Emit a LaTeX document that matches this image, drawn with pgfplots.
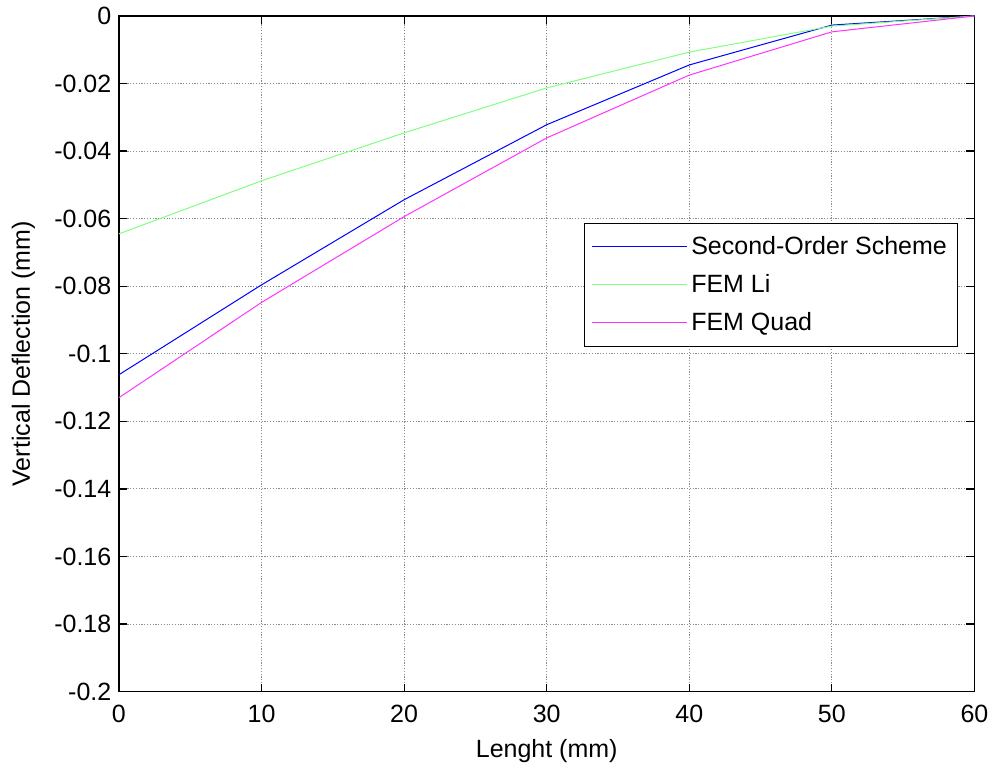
\documentclass[border=0pt]{standalone}
\usepackage{fontspec}
\setmainfont{Liberation Sans}
\usepackage{pgfplots}
\pgfplotsset{compat=1.18}

\definecolor{mblue}{rgb}{0,0,1}
\definecolor{mgreen}{rgb}{0.5,1,0.5}
\definecolor{mmag}{rgb}{1,0.2,1}

\begin{document}
\begin{tikzpicture}
\begin{axis}[
   name=ax,
   scale only axis, width=428pt, height=338pt,
   xmin=0, xmax=60, ymin=-0.2, ymax=0,
   xtick={0,10,20,30,40,50,60},
   ytick={-0.2,-0.18,-0.16,-0.14,-0.12,-0.1,-0.08,-0.06,-0.04,-0.02,0},
   yticklabels={-0.2,-0.18,-0.16,-0.14,-0.12,-0.1,-0.08,-0.06,-0.04,-0.02,0},
   xticklabels={0,10,20,30,40,50,60},
   tick pos=both, tick align=inside, major tick length=4pt,
   tick style={black, line width=0.6pt},
   axis line style={black, line width=0.6pt},
   grid=major, major grid style={dash pattern=on 0.6pt off 0.8pt, gray!90, line width=0.5pt},
   ticklabel style={font=\fontsize{12.5}{15}\selectfont},
   xticklabel style={yshift=-3pt},
   yticklabel style={xshift=-0.3pt},
   xlabel={Lenght (mm)}, ylabel={Vertical Deflection (mm)},
   label style={font=\fontsize{12.5}{15}\selectfont},
   xlabel style={at={(rel axis cs:0.5,-0.0976)}, anchor=base},
   ylabel style={at={(rel axis cs:-0.104,0.5)}, anchor=base, rotate=0},
   legend style={at={(0.9813,0.6938)}, anchor=north east, draw=black,
      line width=0.6pt, font=\fontsize{12.5}{15}\selectfont,
      inner xsep=3.5pt, inner ysep=4.5pt, row sep=4.35pt},
   legend cell align=left,
   legend image code/.code={
      \path (0pt,0pt) -- (47.5pt,0pt);
      \draw[line width=0.5pt] (7pt,0pt) -- (45pt,0pt);},
]
\addplot[mblue, line width=0.5pt] coordinates {(0,-0.1062) (10,-0.0796) (20,-0.0544) (30,-0.0322) (40,-0.0145) (50,-0.0027) (60,0)};
\addlegendentry{Second-Order Scheme}
\addplot[mgreen, line width=0.5pt] coordinates {(0,-0.0645) (10,-0.0488) (20,-0.0346) (30,-0.0213) (40,-0.0107) (50,-0.0030) (60,0)};
\addlegendentry{FEM Li}
\addplot[mmag, line width=0.5pt] coordinates {(0,-0.1130) (10,-0.0848) (20,-0.0594) (30,-0.0361) (40,-0.0175) (50,-0.0047) (60,0)};
\addlegendentry{FEM Quad}
\end{axis}
\path ([xshift=-59.5pt,yshift=-36.5pt]ax.south west) rectangle ([xshift=10pt,yshift=8pt]ax.north east);
\end{tikzpicture}
\end{document}
